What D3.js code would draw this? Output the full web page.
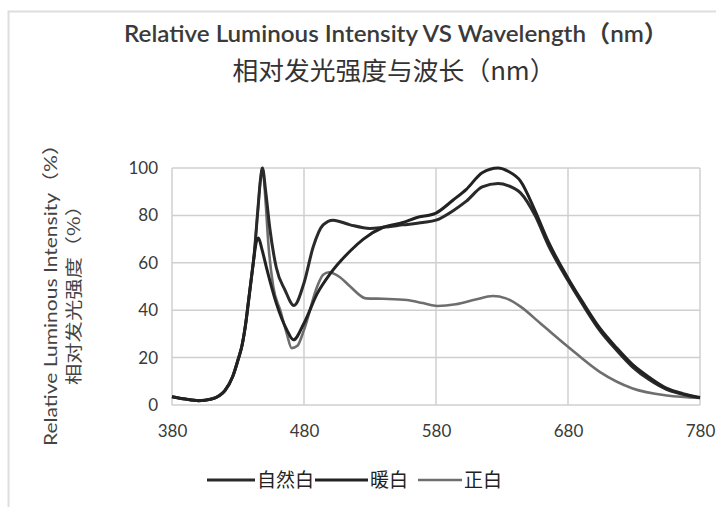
<!DOCTYPE html>
<html><head><meta charset="utf-8">
<script src="https://cdn.jsdelivr.net/npm/d3@7"></script>
<style>body{margin:0;background:#fff}svg{display:block}</style>
</head><body>
<svg id="c" width="716" height="507"></svg>
<script>
const xTicks = [380, 480, 580, 680, 780];
const yTicks = [0, 20, 40, 60, 80, 100];
const seriesNames = ["自然白", "暖白", "正白"];
const naturalWhite = [[380,3.5],[390,2.5],[400,1.8],[410,2.5],[416,4],[420,6],[426,12],[430,19],[433,25],[436,35],[438,44],[440,53],[442,62],[445,82],[447,95],[448.5,100],[451,90],[454,75],[459,58],[465.6,48.5],[472.4,42],[480,51.5],[487,66.8],[494.5,76],[502,78],[515,76],[530,74.5],[540,75],[555,76],[570,77],[580,78],[593,82],[603,86],[615,92],[627,93.5],[635,92.5],[644,89.5],[655,80],[665,67.5],[680,52.5],[691,42.5],[704,31.5],[717,23],[729,16],[742,10.5],[755,6.5],[767,4.5],[780,3]];
const warmWhite = [[380,3.5],[390,2.5],[400,1.8],[410,2.5],[416,4],[420,6],[426,12],[430,19],[433,25],[436,35],[438,44],[440,53],[442,62],[444,69],[445.5,70.5],[448,66],[452,57],[459,43],[467,31.7],[472,27.5],[480,34.5],[490,47],[500,55.5],[515,65],[525,70],[540,75],[555,77],[565,79],[580,81],[593,86.5],[603,91],[615,98],[627,100],[635,98.5],[644,94.5],[655,82],[665,69],[680,53.5],[691,43.5],[704,32.5],[717,24],[729,17],[742,11.5],[755,7],[767,4.8],[780,3.2]];
const pureWhite = [[380,3.5],[390,2.5],[400,1.8],[410,2.5],[416,4],[420,6],[426,12],[430,19],[433,25],[436,35],[438,44],[440,53],[442,62],[445,82],[447,95],[448.5,100],[451,85],[453,68],[456.7,50],[462,40],[467,30],[470.6,24],[475,25],[480,31.7],[490,50],[494.5,55],[499,56],[507,54],[515,50],[527,45],[540,44.8],[558,44.3],[570,43],[581,41.8],[595,42.5],[610,44.5],[623,46],[633,45],[644,41.5],[659,34.5],[680,24.6],[704,14],[729,7],[755,4],[780,3]];

const svg = d3.select("#c");
const L = 172, R = 700, T = 168, B = 405;
const x = d3.scaleLinear().domain([380, 780]).range([L, R]);
const y = d3.scaleLinear().domain([0, 100]).range([B, T]);
const latin = "Lato, 'Open Sans', sans-serif";
const cjk = "'Noto Sans CJK SC', sans-serif";

// frame
svg.append("path").attr("d", "M8.5,507 V11.5 H716").attr("fill", "none")
  .attr("stroke", "#dedede").attr("stroke-width", 2);

// titles
svg.append("text").attr("x", 396).attr("y", 42).attr("text-anchor", "middle")
  .attr("font-family", latin + ", " + cjk).attr("font-size", 23.5).attr("font-weight", 600).attr("fill", "#3a3a3a")
  .attr("textLength", 544).attr("lengthAdjust", "spacingAndGlyphs")
  .text("Relative Luminous Intensity VS Wavelength（nm）");
svg.append("text").attr("x", 394).attr("y", 80).attr("text-anchor", "middle")
  .attr("font-family", cjk).attr("font-size", 25.5).attr("fill", "#333")
  .attr("textLength", 323).attr("lengthAdjust", "spacingAndGlyphs")
  .text("相对发光强度与波长（nm）");

// gridlines
const grid = svg.append("g");
grid.selectAll("line.h").data(yTicks).join("line")
  .attr("x1", L).attr("x2", R).attr("y1", d => y(d)).attr("y2", d => y(d))
  .attr("stroke", "#cfcfcf").attr("stroke-width", 1.5);
grid.selectAll("line.v").data(xTicks).join("line")
  .attr("y1", T).attr("y2", B).attr("x1", d => x(d)).attr("x2", d => x(d))
  .attr("stroke", "#cfcfcf").attr("stroke-width", 1.5);

// axes
const xa = svg.append("g").attr("transform", `translate(0,${B})`)
  .call(d3.axisBottom(x).tickValues(xTicks).tickSize(0).tickPadding(20));
xa.select(".domain").remove();
xa.selectAll("text").attr("font-family", latin).attr("font-size", 17).attr("fill", "#3a3a3a");
const ya = svg.append("g").attr("transform", `translate(${L},0)`)
  .call(d3.axisLeft(y).tickValues(yTicks).tickSize(0).tickPadding(14));
ya.select(".domain").remove();
ya.selectAll("text").attr("font-family", latin).attr("font-size", 17).attr("fill", "#3a3a3a");

// y title
const yt = svg.append("g").attr("transform", "translate(57,290) rotate(-90)");
yt.append("text").attr("text-anchor", "middle").attr("y", 0)
  .attr("font-family", latin + ", " + cjk).attr("font-size", 17).attr("fill", "#444")
  .attr("textLength", 312).attr("lengthAdjust", "spacingAndGlyphs")
  .text("Relative Luminous Intensity（%）");
yt.append("text").attr("text-anchor", "middle").attr("y", 23)
  .attr("font-family", cjk).attr("font-size", 17).attr("fill", "#444")
  .attr("textLength", 190).attr("lengthAdjust", "spacingAndGlyphs")
  .text("相对发光强度（%）");

// lines
const line = d3.line().x(d => x(d[0])).y(d => y(d[1])).curve(d3.curveMonotoneX);
const data = [naturalWhite, warmWhite, pureWhite];
const colors = ["#2a2a2a", "#222", "#6e6e6e"];
const widths = [3, 3, 2.6];
svg.append("g").selectAll("path").data([2, 0, 1]).join("path")
  .attr("d", i => line(data[i])).attr("fill", "none")
  .attr("stroke", i => colors[i]).attr("stroke-width", i => widths[i])
  .attr("stroke-linejoin", "round");

// legend
const legX = [207, 315, 418];
const legW = [48, 53, 44];
const lg = svg.append("g");
seriesNames.forEach((n, i) => {
  lg.append("line").attr("x1", legX[i]).attr("x2", legX[i] + legW[i]).attr("y1", 480).attr("y2", 480)
    .attr("stroke", colors[i]).attr("stroke-width", widths[i]);
  lg.append("text").attr("x", legX[i] + legW[i] + 2).attr("y", 487).attr("font-family", cjk)
    .attr("font-size", 19).attr("fill", "#222").text(n);
});
</script>
</body></html>
